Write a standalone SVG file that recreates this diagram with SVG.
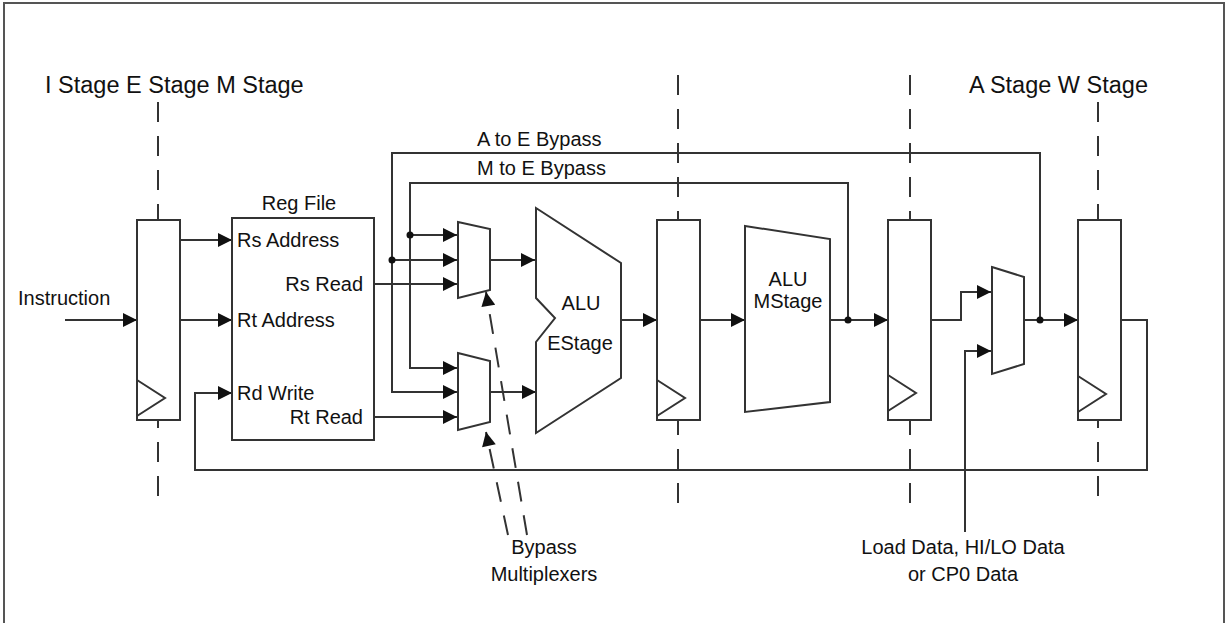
<svg xmlns="http://www.w3.org/2000/svg" width="1228" height="623" viewBox="0 0 1228 623">
<defs>
<style>
.ln{fill:none;stroke:#333;stroke-width:2}
.bx{fill:#fff;stroke:#333;stroke-width:2}
.ds{fill:none;stroke:#333;stroke-width:2;stroke-dasharray:20,14}
.t{font-family:"Liberation Sans",Arial,sans-serif;font-size:20px;fill:#111}
.h{font-family:"Liberation Sans",Arial,sans-serif;font-size:23.5px;fill:#111}
</style>
<marker id="a" viewBox="0 0 10 10" refX="10" refY="5" markerWidth="24" markerHeight="14" markerUnits="userSpaceOnUse" orient="auto"><path d="M0,0L10,5L0,10z" fill="#111"/></marker>
</defs>
<rect width="1228" height="623" fill="#fff"/>
<rect x="4" y="3" width="1220" height="640" fill="none" stroke="#555" stroke-width="2"/>
<g id="stages">
<text class="h" x="45" y="93">I Stage E Stage M Stage</text>
<text class="h" x="969" y="93">A Stage W Stage</text>
<line class="ds" x1="158" y1="102" x2="158" y2="510"/>
<line class="ds" x1="678" y1="75" x2="678" y2="510"/>
<line class="ds" x1="910" y1="75" x2="910" y2="510"/>
<line class="ds" x1="1098" y1="102" x2="1098" y2="510"/>
</g>
<g id="connectors">
<line class="ln" x1="65" y1="320" x2="137" y2="320" marker-end="url(#a)"/>
<line class="ln" x1="180" y1="240" x2="232" y2="240" marker-end="url(#a)"/>
<line class="ln" x1="180" y1="320" x2="232" y2="320" marker-end="url(#a)"/>
<polyline class="ln" points="1122,320 1147,320 1147,470 195,470 195,393 232,393" marker-end="url(#a)"/>
<line class="ln" x1="374" y1="284" x2="457" y2="284" marker-end="url(#a)"/>
<line class="ln" x1="374" y1="417" x2="457" y2="417" marker-end="url(#a)"/>
<polyline class="ln" points="1040,320 1040,153 392,153 392,392 457,392" marker-end="url(#a)"/>
<polyline class="ln" points="848,320 848,183 410,183 410,368 457,368" marker-end="url(#a)"/>
<line class="ln" x1="410" y1="235" x2="457" y2="235" marker-end="url(#a)"/>
<line class="ln" x1="392" y1="260" x2="457" y2="260" marker-end="url(#a)"/>
<circle cx="410" cy="235" r="3.5" fill="#111"/>
<circle cx="392" cy="260" r="3.5" fill="#111"/>
<line class="ln" x1="490" y1="260" x2="535" y2="260" marker-end="url(#a)"/>
<line class="ln" x1="490" y1="392" x2="536" y2="392" marker-end="url(#a)"/>
<line class="ln" x1="621" y1="320" x2="657" y2="320" marker-end="url(#a)"/>
<line class="ln" x1="700" y1="320" x2="745" y2="320" marker-end="url(#a)"/>
<line class="ln" x1="830" y1="320" x2="888" y2="320" marker-end="url(#a)"/>
<circle cx="848" cy="320" r="3.5" fill="#111"/>
<polyline class="ln" points="931,320 961,320 961,292 991,292" marker-end="url(#a)"/>
<polyline class="ln" points="965,532 965,351 991,351" marker-end="url(#a)"/>
<line class="ln" x1="1024" y1="320" x2="1078" y2="320" marker-end="url(#a)"/>
<circle cx="1040" cy="320" r="3.5" fill="#111"/>
<line class="ds" x1="508" y1="535" x2="486" y2="432" stroke-dasharray="20,12" marker-end="url(#a)"/>
<line class="ds" x1="527" y1="535" x2="486" y2="292" stroke-dasharray="20,12" marker-end="url(#a)"/>
</g>
<g id="regI"><rect class="bx" x="137" y="220" width="43" height="200"/><polyline class="ln" points="137,380 165,398 137,416"/></g>
<g id="regfile"><rect class="bx" x="232" y="218" width="142" height="222"/>
<text class="t" x="299" y="210" text-anchor="middle">Reg File</text>
<text class="t" x="237" y="247">Rs Address</text>
<text class="t" x="363" y="291" text-anchor="end">Rs Read</text>
<text class="t" x="237" y="327">Rt Address</text>
<text class="t" x="237" y="400">Rd Write</text>
<text class="t" x="363" y="424" text-anchor="end">Rt Read</text></g>
<g id="instr"><text class="t" x="18" y="305">Instruction</text></g>
<g id="mux1"><polygon class="bx" points="458,222 490,229 490,290 458,298"/></g>
<g id="mux2"><polygon class="bx" points="458,353 490,361 490,422 458,430"/></g>
<g id="aluE"><polygon class="bx" points="536,208 621,263 621,378 536,433 536,342 555,318 536,298"/>
<text class="t" x="581" y="310" text-anchor="middle">ALU</text>
<text class="t" x="580" y="350" text-anchor="middle">EStage</text></g>
<g id="regM"><rect class="bx" x="657" y="220" width="43" height="200"/><polyline class="ln" points="657,380 685,398 657,416"/></g>
<g id="aluM"><polygon class="bx" points="745,226 830,239 830,402 745,412"/>
<text class="t" x="788" y="286" text-anchor="middle">ALU</text>
<text class="t" x="788" y="308" text-anchor="middle">MStage</text></g>
<g id="regA"><rect class="bx" x="888" y="220" width="43" height="200"/><polyline class="ln" points="888,375 916,393 888,411"/></g>
<g id="mux3"><polygon class="bx" points="992,267 1024,277 1024,364 992,374"/></g>
<g id="regW"><rect class="bx" x="1078" y="220" width="43" height="200"/><polyline class="ln" points="1078,376 1106,394 1078,412"/></g>
<g id="labels">
<text class="t" x="477" y="146">A to E Bypass</text>
<text class="t" x="477" y="175">M to E Bypass</text>
<text class="t" x="544" y="554" text-anchor="middle">Bypass</text>
<text class="t" x="544" y="581" text-anchor="middle">Multiplexers</text>
<text class="t" x="963" y="554" text-anchor="middle">Load Data, HI/LO Data</text>
<text class="t" x="963" y="581" text-anchor="middle">or CP0 Data</text>
</g>
</svg>
